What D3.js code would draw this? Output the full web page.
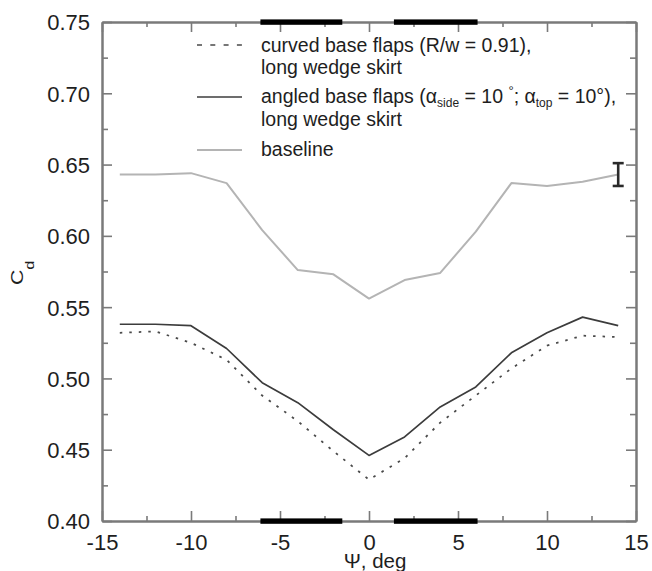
<!DOCTYPE html>
<html>
<head>
<meta charset="utf-8">
<script src="https://cdn.jsdelivr.net/npm/d3@7"></script>
<style>
  html, body { margin: 0; padding: 0; background: #fff; overflow: hidden; }
  svg { display: block; font-family: "Liberation Sans", Arial, sans-serif; }
</style>
</head>
<body>
<svg id="chart" width="652" height="571"></svg>
<script>
// Yaw angle (deg) and drag coefficient for each configuration
const psi      = [-14, -12, -10, -8, -6, -4, -2, 0, 2, 4, 6, 8, 10, 12, 14];
const baseline = [0.643, 0.643, 0.644, 0.637, 0.604, 0.576, 0.573, 0.556, 0.569, 0.574, 0.603, 0.637, 0.635, 0.638, 0.643];
const angled   = [0.538, 0.538, 0.537, 0.521, 0.497, 0.483, 0.464, 0.446, 0.459, 0.480, 0.494, 0.518, 0.532, 0.543, 0.537];
const curved   = [0.532, 0.533, 0.525, 0.513, 0.488, 0.470, 0.449, 0.429, 0.444, 0.469, 0.488, 0.507, 0.523, 0.530, 0.529];

// Tick values
const xMajor = [-15, -10, -5, 0, 5, 10, 15];
const xMinor = [-12.5, -7.5, -2.5, 2.5, 7.5, 12.5];
const yMajor = [0.40, 0.45, 0.50, 0.55, 0.60, 0.65, 0.70, 0.75];
const yMinor = [0.425, 0.475, 0.525, 0.575, 0.625, 0.675, 0.725];

// Yaw ranges marked along the top and bottom edges
const yawBands = [[-6.1, -1.5], [1.4, 6.1]];

// Repeatability error bar
const errPsi = 14;
const errRange = [0.635, 0.651];

const svg = d3.select("#chart");
const L = 102, R = 636, T = 22, B = 521;
const x = d3.scaleLinear().domain([-15, 15]).range([L, R]);
const y = d3.scaleLinear().domain([0.40, 0.75]).range([B, T]);

const axisColor = "#7a7a7a";
const textColor = "#1e1e1e";

function styleAxis(g) {
  g.selectAll("path.domain").attr("stroke", axisColor).attr("stroke-width", 2);
  g.selectAll(".tick line").attr("stroke", axisColor).attr("stroke-width", 1.6);
  g.selectAll(".tick text").attr("fill", textColor).style("font-size", "22px")
    .style("font-family", "'Liberation Sans', Arial, sans-serif");
}

// Plain hyphen for negative tick labels
const fmtX = d => String(d);

// Major and minor ticks, all pointing into the plot
const gxB = svg.append("g").attr("transform", `translate(0,${B})`)
  .call(d3.axisBottom(x).tickValues(xMajor).tickFormat(fmtX).tickSizeInner(-10).tickSizeOuter(0).tickPadding(12));
gxB.call(styleAxis);
gxB.selectAll(".tick text").attr("dy", null).attr("y", 29);
svg.append("g").attr("transform", `translate(0,${B})`)
  .call(d3.axisBottom(x).tickValues(xMinor).tickFormat("").tickSizeInner(-5).tickSizeOuter(0)).call(styleAxis);

const gxT = svg.append("g").attr("transform", `translate(0,${T})`)
  .call(d3.axisTop(x).tickValues(xMajor).tickFormat("").tickSizeInner(-10).tickSizeOuter(0));
gxT.call(styleAxis);
svg.append("g").attr("transform", `translate(0,${T})`)
  .call(d3.axisTop(x).tickValues(xMinor).tickFormat("").tickSizeInner(-5).tickSizeOuter(0)).call(styleAxis);

const gyL = svg.append("g").attr("transform", `translate(${L},0)`)
  .call(d3.axisLeft(y).tickValues(yMajor).tickFormat(d3.format(".2f")).tickSizeInner(-10).tickSizeOuter(0).tickPadding(12));
gyL.call(styleAxis);
gyL.selectAll(".tick text").attr("dy", "0.36em");
svg.append("g").attr("transform", `translate(${L},0)`)
  .call(d3.axisLeft(y).tickValues(yMinor).tickFormat("").tickSizeInner(-6).tickSizeOuter(0)).call(styleAxis);

svg.append("g").attr("transform", `translate(${R},0)`)
  .call(d3.axisRight(y).tickValues(yMajor).tickFormat("").tickSizeInner(-10).tickSizeOuter(0)).call(styleAxis);
svg.append("g").attr("transform", `translate(${R},0)`)
  .call(d3.axisRight(y).tickValues(yMinor).tickFormat("").tickSizeInner(-6).tickSizeOuter(0)).call(styleAxis);

// Thick bands on both horizontal edges
[T, B].forEach(edge => {
  svg.append("g").selectAll("rect").data(yawBands).join("rect")
    .attr("x", d => x(d[0]))
    .attr("width", d => x(d[1]) - x(d[0]))
    .attr("y", edge - 2.6)
    .attr("height", 5.4)
    .attr("fill", "#000");
});

// Series lines
const line = d3.line().x(d => x(d[0])).y(d => y(d[1]));
const series = [
  { values: baseline, stroke: "#b4b4b4", width: 2, dash: null },
  { values: angled,   stroke: "#3c3c3c", width: 1.7, dash: null },
  { values: curved,   stroke: "#4a4a4a", width: 1.8, dash: "2.5,7" }
];
series.forEach(s => {
  svg.append("path")
    .datum(psi.map((p, i) => [p, s.values[i]]))
    .attr("d", line)
    .attr("fill", "none")
    .attr("stroke", s.stroke)
    .attr("stroke-width", s.width)
    .attr("stroke-dasharray", s.dash)
    .attr("stroke-linejoin", "round");
});

// Error bar
const eb = svg.append("g").attr("stroke", "#2a2a2a").attr("stroke-width", 2.6);
eb.append("line").attr("x1", x(errPsi)).attr("x2", x(errPsi)).attr("y1", y(errRange[0])).attr("y2", y(errRange[1]));
[errRange[0], errRange[1]].forEach(v => {
  eb.append("line").attr("x1", x(errPsi) - 5.5).attr("x2", x(errPsi) + 5.5).attr("y1", y(v)).attr("y2", y(v));
});

// Legend
const lg = svg.append("g").style("font-size", "19.5px").attr("fill", textColor);
const sx0 = 197, sx1 = 242, tx = 261;
lg.append("line").attr("x1", sx0).attr("x2", sx1).attr("y1", 45).attr("y2", 45)
  .attr("stroke", "#4a4a4a").attr("stroke-width", 1.6).attr("stroke-dasharray", "5,8.3");
lg.append("text").attr("x", tx).attr("y", 52).text("curved base flaps (R/w = 0.91),");
lg.append("text").attr("x", tx).attr("y", 74).text("long wedge skirt");

lg.append("line").attr("x1", sx0).attr("x2", sx1).attr("y1", 97).attr("y2", 97)
  .attr("stroke", "#3c3c3c").attr("stroke-width", 1.7);
const t2 = lg.append("text").attr("x", tx).attr("y", 103);
t2.append("tspan").text("angled base flaps (α");
t2.append("tspan").attr("dy", 4).style("font-size", "12px").text("side");
t2.append("tspan").attr("dy", -4).text(" = 10 ");
t2.append("tspan").attr("dy", -8).style("font-size", "13px").text("°");
t2.append("tspan").attr("dy", 8).text("; α");
t2.append("tspan").attr("dy", 4).style("font-size", "12px").text("top");
t2.append("tspan").attr("dy", -4).text(" = 10°),");
lg.append("text").attr("x", tx).attr("y", 126).text("long wedge skirt");

lg.append("line").attr("x1", sx0).attr("x2", sx1).attr("y1", 150).attr("y2", 150)
  .attr("stroke", "#b4b4b4").attr("stroke-width", 2);
lg.append("text").attr("x", tx).attr("y", 156).text("baseline");

// Axis titles
const yt = svg.append("text").attr("transform", "translate(23,285) rotate(-90) scale(1.25,1)")
  .attr("fill", textColor).style("font-size", "17px");
yt.append("tspan").text("C");
yt.append("tspan").attr("dy", 11).style("font-size", "13px").text("d");

svg.append("text").attr("x", 375).attr("y", 568).attr("text-anchor", "middle")
  .attr("fill", textColor).style("font-size", "20.5px").text("Ψ, deg");
</script>
</body>
</html>
